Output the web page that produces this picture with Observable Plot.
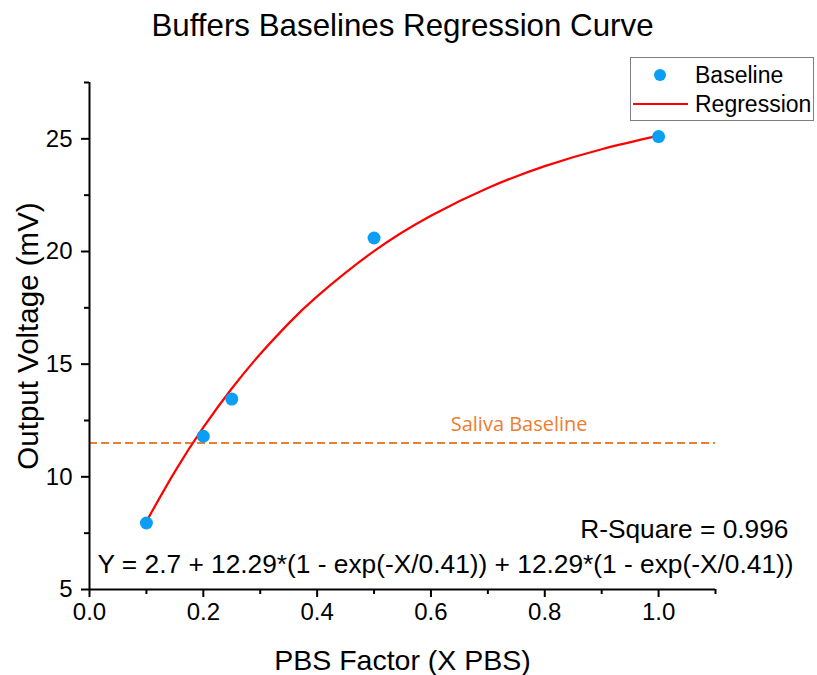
<!DOCTYPE html>
<html>
<head>
<meta charset="utf-8">
<script src="https://cdn.jsdelivr.net/npm/d3@7"></script>
<script src="https://cdn.jsdelivr.net/npm/@observablehq/plot@0.6"></script>
<style>
  html, body { margin: 0; padding: 0; background: #fff; }
  #wrap { position: relative; width: 817px; height: 675px; }
  #legend { position: absolute; left: 630px; top: 57px; width: 182px; height: 62px;
    border: 1px solid #7f7f7f; background: #fff; font-family: "Liberation Sans", Arial, sans-serif; font-size: 23px; }
  .lab { position: absolute; left: 64px; line-height: 26px; white-space: nowrap; }
  .dot { position: absolute; left: 23px; width: 12px; height: 12px; border-radius: 50%; }
  .ln { position: absolute; left: 2px; width: 55px; height: 2px; }
</style>
</head>
<body>
<div id="wrap"></div>
<script>
// ---- data ----
const baselineX = [0.1, 0.2, 0.25, 0.5, 1.0];
const baselineY = [7.95, 11.8, 13.45, 20.6, 25.1];
const regressionX = [0.1, 0.15, 0.2, 0.25, 0.3, 0.35, 0.4, 0.5, 0.6, 0.7, 0.8, 0.9, 1.0];
const regressionY = [8.02, 10.23, 12.19, 13.92, 15.45, 16.81, 18.01, 20.02, 21.59, 22.82, 23.79, 24.54, 25.14];
const salivaBaseline = 11.5;
const xMajorTicks = [0.0, 0.2, 0.4, 0.6, 0.8, 1.0];
const xMinorTicks = [0.1, 0.3, 0.5, 0.7, 0.9, 1.1];
const yMajorTicks = [5, 10, 15, 20, 25];
const yMinorTicks = [7.5, 12.5, 17.5, 22.5, 27.5];
const titleText = "Buffers Baselines Regression Curve";
const xLabel = "PBS Factor (X PBS)";
const yLabel = "Output Voltage (mV)";
const salivaLabel = "Saliva Baseline";
const rSquareText = "R-Square = 0.996";
const equationText = "Y = 2.7 + 12.29*(1 - exp(-X/0.41)) + 12.29*(1 - exp(-X/0.41))";
const seriesNames = ["Baseline", "Regression"];
const seriesColors = ["#0a9ef5", "#ff0000"];
const salivaColor = "#ed7d31";

const points = baselineX.map((x, i) => ({x, y: baselineY[i]}));
const curve = regressionX.map((x, i) => ({x, y: regressionY[i]}));

const font = "'Liberation Sans', Arial, sans-serif";

const chart = Plot.plot({
  width: 817,
  height: 675,
  marginLeft: 89,
  marginRight: 102,
  marginTop: 82,
  marginBottom: 86,
  style: { fontFamily: font, background: "#fff", color: "#000" },
  x: { domain: [0, 1.1] },
  y: { domain: [5, 27.5] },
  marks: [
    Plot.ruleY([salivaBaseline], { stroke: salivaColor, strokeWidth: 2, strokeDasharray: "8,4" }),
    Plot.text([salivaLabel], { x: 0.755, y: salivaBaseline, dy: -18, text: d => d, fill: salivaColor,
      fontSize: 20, lineAnchor: "middle", fontFamily: "'Open Sans', Lato, sans-serif" }),
    Plot.line(curve, { x: "x", y: "y", stroke: seriesColors[1], strokeWidth: 2.2, curve: "natural" }),
    Plot.dot(points, { x: "x", y: "y", r: 6.5, fill: seriesColors[0], stroke: null }),
    Plot.text([rSquareText], { frameAnchor: "bottom-right", dx: 73, dy: -60, lineAnchor: "middle", text: d => d, fontSize: 26.3, textAnchor: "end" }),
    Plot.text([equationText], { frameAnchor: "bottom-left", dx: 8, dy: -25, lineAnchor: "middle", text: d => d, fontSize: 26.3, textAnchor: "start" }),
    Plot.ruleX([0], { stroke: "#000", strokeWidth: 2 }),
    Plot.ruleY([5], { stroke: "#000", strokeWidth: 2 }),
    Plot.axisX(xMajorTicks, { tickSize: 8, tickPadding: 5, strokeWidth: 2, fontSize: 24, tickFormat: d3.format(".1f"), label: null }),
    Plot.axisX(xMinorTicks, { tickSize: 5, strokeWidth: 2, tickFormat: () => "", label: null }),
    Plot.axisY(yMajorTicks, { tickSize: 8, tickPadding: 9, strokeWidth: 2, fontSize: 24, tickFormat: d3.format("d"), label: null }),
    Plot.axisY(yMinorTicks, { tickSize: 5, strokeWidth: 2, tickFormat: () => "", label: null }),
    Plot.text([xLabel], { frameAnchor: "bottom", dy: 71, lineAnchor: "middle", text: d => d, fontSize: 28.5 }),
    Plot.text([yLabel], { frameAnchor: "left", dx: -61, rotate: -90, lineAnchor: "middle", textAnchor: "middle", text: d => d, fontSize: 29.5 }),
    Plot.text([titleText], { frameAnchor: "top", dy: -57, lineAnchor: "middle", text: d => d, fontSize: 31.3 })
  ]
});

const wrap = document.getElementById("wrap");
wrap.appendChild(chart);

const legend = document.createElement("div");
legend.id = "legend";
const rowCenters = [17, 46];
seriesNames.forEach((name, i) => {
  const mark = document.createElement("div");
  mark.className = i === 0 ? "dot" : "ln";
  mark.style.background = seriesColors[i];
  mark.style.top = (rowCenters[i] - (i === 0 ? 6 : 1)) + "px";
  legend.appendChild(mark);
  const label = document.createElement("div");
  label.className = "lab";
  label.textContent = name;
  label.style.top = (rowCenters[i] - 13) + "px";
  legend.appendChild(label);
});
wrap.appendChild(legend);
</script>
</body>
</html>
